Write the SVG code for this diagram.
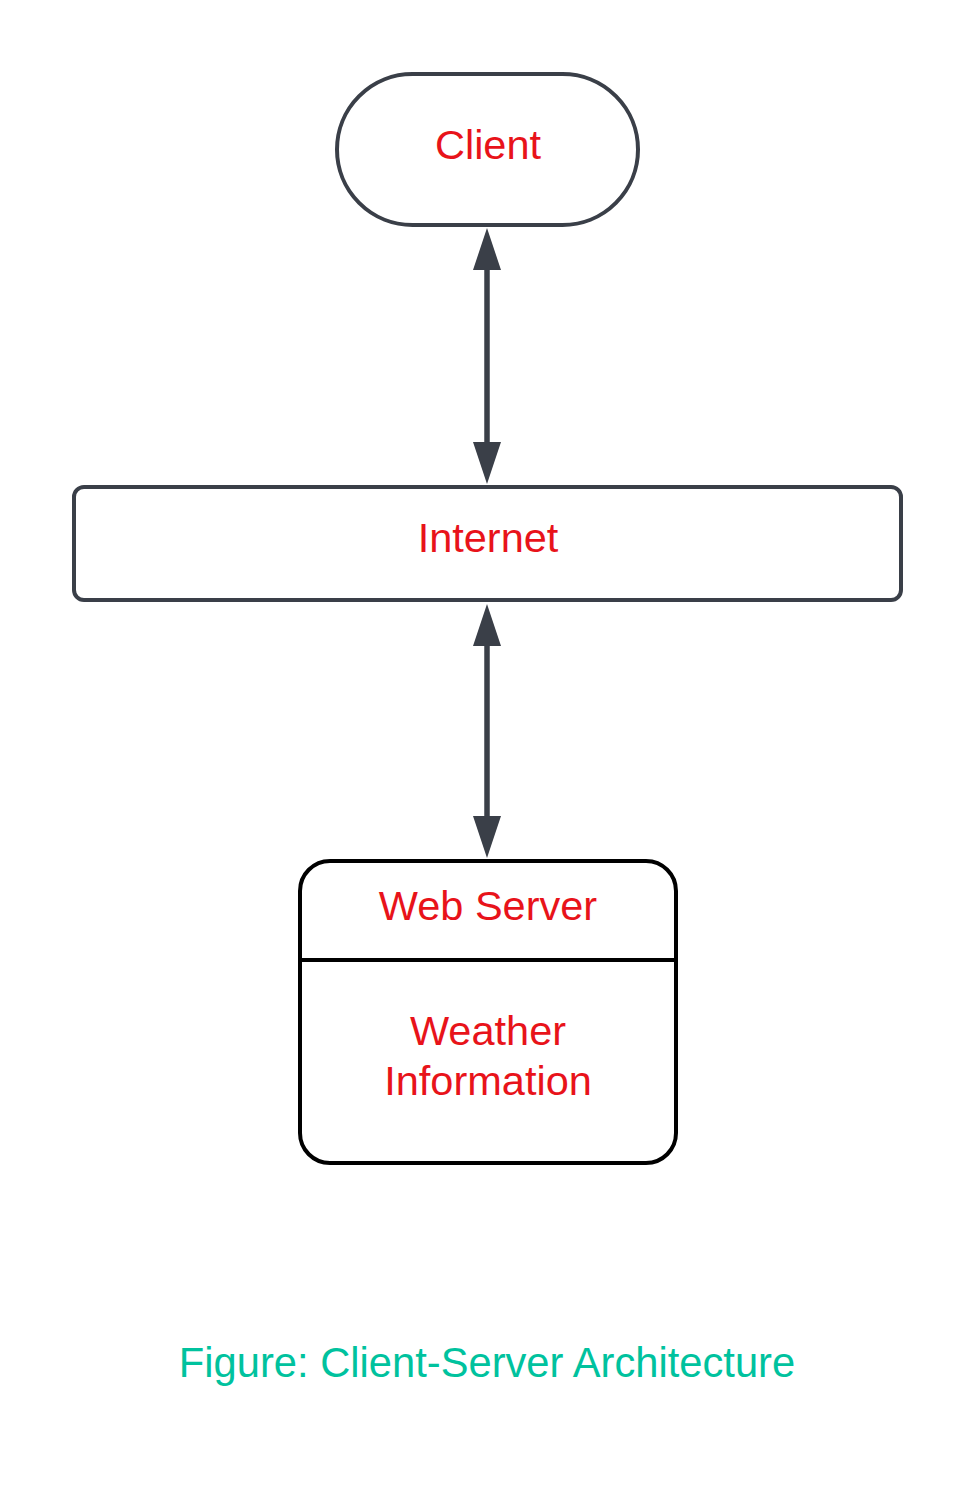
<svg xmlns="http://www.w3.org/2000/svg" width="975" height="1500" viewBox="0 0 975 1500">
<style>
.lbl{font-family:"Liberation Sans",Arial,sans-serif;font-size:41.5px;fill:#e8131a;text-anchor:middle}
.cap{font-family:"Liberation Sans",Arial,sans-serif;font-size:41.7px;fill:#00c29e;text-anchor:middle}
.gray{fill:#ffffff;stroke:#3a3f48;stroke-width:4}
.blk{fill:#ffffff;stroke:#000000;stroke-width:4}
.conn{stroke:#3a3f48;stroke-width:5.5;fill:none}
</style>
<defs>
<marker id="ah" viewBox="0 0 42 28" refX="1" refY="14" markerWidth="42" markerHeight="28" markerUnits="userSpaceOnUse" orient="auto-start-reverse">
<path d="M0,0 L42,14 L0,28 Z" fill="#3a3f48"/>
</marker>
</defs>
<rect width="975" height="1500" fill="#ffffff"/>
<g id="connectors">
<line class="conn" x1="487" y1="269" x2="487" y2="443" marker-start="url(#ah)" marker-end="url(#ah)"/>
<line class="conn" x1="487" y1="645" x2="487" y2="817" marker-start="url(#ah)" marker-end="url(#ah)"/>
</g>
<g id="client">
<rect class="gray" x="337" y="74" width="301" height="151" rx="75.5" ry="75.5"/>
<text class="lbl" x="488" y="159">Client</text>
</g>
<g id="internet">
<rect class="gray" x="74" y="487" width="827" height="113" rx="10" ry="10"/>
<text class="lbl" x="488" y="552">Internet</text>
</g>
<g id="webserver">
<rect class="blk" x="300" y="861" width="376" height="302" rx="30" ry="30"/>
<line x1="300" y1="960" x2="676" y2="960" stroke="#000000" stroke-width="4"/>
<text class="lbl" x="488" y="920">Web Server</text>
<text class="lbl" x="488" y="1045">Weather</text>
<text class="lbl" x="488" y="1095">Information</text>
</g>
<g id="caption">
<text class="cap" x="487" y="1377">Figure: Client-Server Architecture</text>
</g>
</svg>
